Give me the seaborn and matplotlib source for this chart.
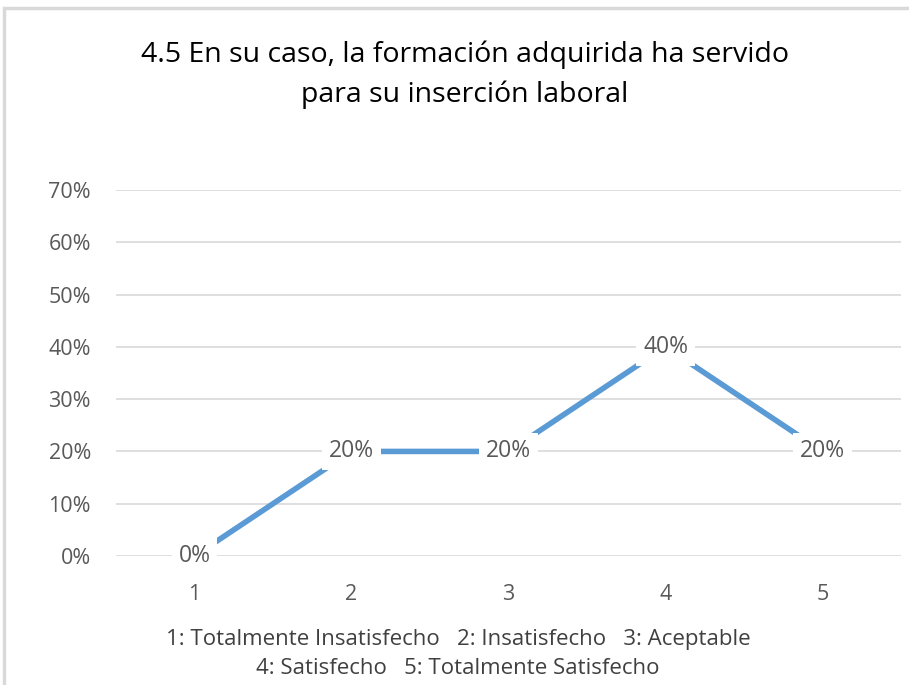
import matplotlib
matplotlib.use("Agg")
import matplotlib.pyplot as plt
import seaborn as sns
import pandas as pd
from matplotlib.patches import Rectangle
from matplotlib.ticker import PercentFormatter

categories = [1, 2, 3, 4, 5]
values = [0.0, 0.20, 0.20, 0.40, 0.20]
value_labels = ["0%", "20%", "20%", "40%", "20%"]
y_ticks = [0.0, 0.1, 0.2, 0.3, 0.4, 0.5, 0.6, 0.7]
title = "4.5 En su caso, la formación adquirida ha servido\npara su inserción laboral"
footer = "1: Totalmente Insatisfecho   2: Insatisfecho   3: Aceptable\n4: Satisfecho   5: Totalmente Satisfecho"

sns.set_theme(style="white")
plt.rcParams['font.family'] = ['Open Sans', 'DejaVu Sans']

df = pd.DataFrame({"cat": categories, "val": values})

fig = plt.figure(figsize=(9.09, 6.85), dpi=100)
fig.patch.set_facecolor("white")
ax = fig.add_axes([116/909, 1-556/685, (901-116)/909, (556-190)/685])

sns.lineplot(data=df, x="cat", y="val", ax=ax, color="#5B9BD5", linewidth=4.0,
             solid_capstyle="butt", zorder=2)

ax.set_xlim(0.5, 5.5)
ax.set_ylim(0, 0.7)
ax.set_yticks(y_ticks)
ax.yaxis.set_major_formatter(PercentFormatter(1.0, decimals=0))
ax.set_xticks(categories)
ax.set_xticklabels([str(c) for c in categories])
ax.grid(axis="y", color="#D9D9D9", linewidth=1.2, zorder=0)
ax.grid(axis="x", visible=False)
for s in ax.spines.values():
    s.set_visible(False)
ax.tick_params(axis="both", length=0, labelsize=15.5, labelcolor="#595959")
ax.tick_params(axis="y", pad=18)
ax.tick_params(axis="x", pad=20)
ax.set_xlabel("")
ax.set_ylabel("")
ax.set_axisbelow(True)

for c, v, lab in zip(categories, values, value_labels):
    ax.text(c, v, lab, ha="center", va="center", fontsize=16.5, color="#595959",
            bbox=dict(boxstyle="square,pad=0.3", facecolor="white", edgecolor="none"),
            zorder=3)

fig.text(465/909, 1-75/685, title, ha="center", va="center", fontsize=20.5,
         color="black", linespacing=1.55)
fig.text(458/909, 1-654/685, footer, ha="center", va="center", fontsize=16,
         color="#404040", linespacing=1.45)

fig.add_artist(Rectangle((4/909, -0.05), 1.2, 1-8/685+0.05, transform=fig.transFigure,
                         fill=False, edgecolor="#D9D9D9", linewidth=2.5))

fig.savefig("out.png", dpi=100)
